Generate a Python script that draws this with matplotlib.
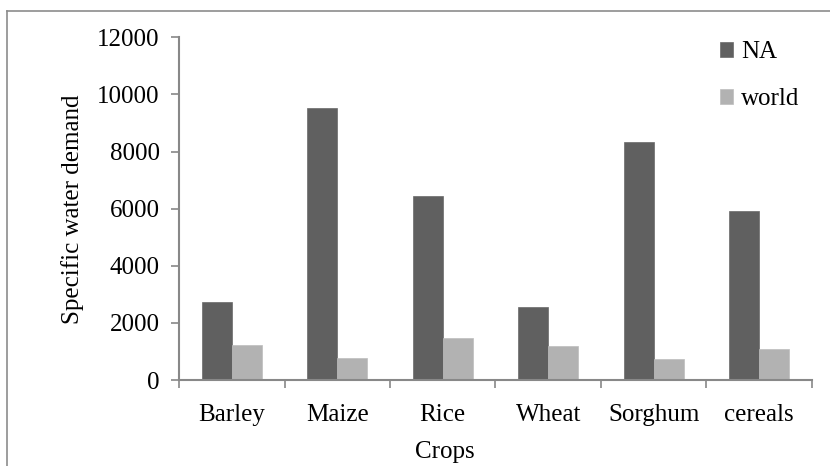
import matplotlib.pyplot as plt
import numpy as np
from matplotlib.lines import Line2D

# data
crops = ['Barley', 'Maize', 'Rice', 'Wheat', 'Sorghum', 'cereals']
na_demand = [2730, 9520, 6450, 2550, 8350, 5930]
world_demand = [1225, 780, 1460, 1200, 740, 1090]

plt.rcParams['font.family'] = ['Liberation Serif', 'DejaVu Serif']

fig = plt.figure(figsize=(8.3, 4.66), dpi=100)
ax = fig.add_axes([0.2157, 0.1845, 0.7625, 0.7355])

x = np.arange(len(crops))
w = 0.2844
ax.bar(x - w / 2, na_demand, width=w, color='#606060', edgecolor='#6a6a6a', linewidth=0.5, label='NA')
ax.bar(x + w / 2, world_demand, width=w, color='#b2b2b2', edgecolor='#bdbdbd', linewidth=0.5, label='world')

ax.set_xlim(-0.5, len(crops) - 0.5)
ax.set_ylim(0, 12000)
ax.set_yticks(range(0, 12001, 2000))

# category labels in the middle, tick marks on the boundaries
ax.set_xticks(x)
ax.set_xticklabels(crops, fontsize=18)
ax.set_xticks(np.arange(-0.5, len(crops), 1), minor=True)
ax.tick_params(axis='x', which='major', length=0, pad=17)
ax.tick_params(axis='x', which='minor', length=6, width=1.2, color='#888888')
ax.tick_params(axis='y', length=6, width=1.2, color='#888888', labelsize=18, pad=8)

for s in ['top', 'right']:
    ax.spines[s].set_visible(False)
for s in ['left', 'bottom']:
    ax.spines[s].set_color('#888888')
    ax.spines[s].set_linewidth(1.5)

fig.text(0.087, 0.55, 'Specific water demand', rotation=90, fontsize=18, ha='center', va='center')
fig.text(0.536, 0.03, 'Crops', fontsize=18, ha='center', va='center')

ax.legend(loc='upper left', bbox_to_anchor=(0.867, 0.912), bbox_transform=fig.transFigure,
          frameon=False, fontsize=18, handlelength=0.55, handleheight=0.55,
          handletextpad=0.3, labelspacing=1.0, borderpad=0, borderaxespad=0)

# outer frame (top and left edges of the original picture)
fig.add_artist(Line2D([0.0084, 1.0], [0.976, 0.976], color='#8c8c8c', lw=1.2, transform=fig.transFigure))
fig.add_artist(Line2D([0.0084, 0.0084], [0.0, 0.976], color='#8c8c8c', lw=1.2, transform=fig.transFigure))

fig.savefig('out.png', dpi=100)
